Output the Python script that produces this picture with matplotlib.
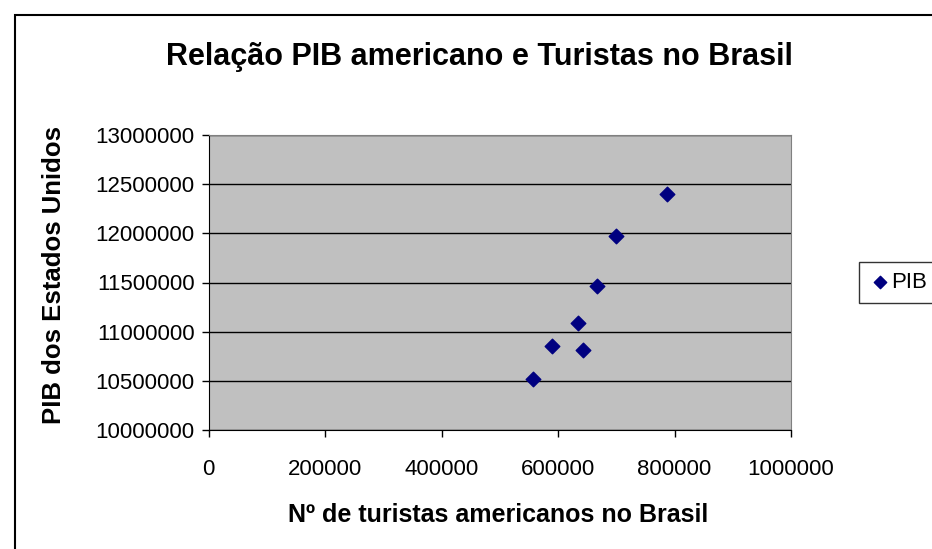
import matplotlib
matplotlib.use("Agg")
import matplotlib.pyplot as plt
from matplotlib.patches import Rectangle

plt.rcParams['font.family'] = ['Liberation Sans', 'DejaVu Sans']

turistas = [556600, 590200, 643400, 633800, 667000, 700100, 787600]
pib = [10516000, 10849500, 10809000, 11085900, 11459600, 11970700, 12402000]
series_name = "PIB"
title = "Relação PIB americano e Turistas no Brasil"
xlabel = "Nº de turistas americanos no Brasil"
ylabel = "PIB dos Estados Unidos"

fig = plt.figure(figsize=(9.32, 5.49), dpi=100)
fig.patches.append(Rectangle((15/932, -0.1), 1.0, 1 - 15/549 + 0.1, transform=fig.transFigure,
                             fill=False, edgecolor='black', linewidth=1.5))

ax = fig.add_axes([208.5/932, 1 - 430/549, 582.5/932, 295/549])
ax.set_facecolor('#C0C0C0')
ax.scatter(turistas, pib, marker='D', s=55, color='#000080', zorder=3, label=series_name)
ax.set_xlim(0, 1000000)
ax.set_ylim(10000000, 13000000)
ax.set_xticks(range(0, 1000001, 200000))
ax.set_yticks(range(10000000, 13000001, 500000))
ax.yaxis.grid(True, color='black', linewidth=1)
ax.set_axisbelow(True)
ax.ticklabel_format(style='plain')
ax.tick_params(direction='out', length=5, width=1, labelsize=16)
ax.tick_params(axis='x', pad=16)
ax.tick_params(axis='y', pad=5)
for s in ['top', 'right']:
    ax.spines[s].set_color('#808080')
for s in ['left', 'bottom']:
    ax.spines[s].set_color('black')

ax.set_xlabel(xlabel, fontsize=18, fontweight='bold', va='center')
ax.xaxis.set_label_coords(0.498, (430 - 515) / 295)
ax.set_ylabel(ylabel, fontsize=18.5, fontweight='bold', va='center')
ax.yaxis.set_label_coords((54 - 208.5) / 582.5, (430 - 275.5) / 295)
fig.text(479/932, 1 - 57/549, title, fontsize=22, fontweight='bold', ha='center', va='center')

leg = ax.legend(loc='center left', bbox_to_anchor=(859/932, 1 - 282/549), bbox_transform=fig.transFigure,
                fontsize=16, frameon=True, fancybox=False, edgecolor='black', handletextpad=0.0,
                borderpad=0.45, borderaxespad=0, markerscale=0.85, handlelength=1.0)
leg.get_frame().set_linewidth(1)

fig.savefig('out.png', dpi=100)
